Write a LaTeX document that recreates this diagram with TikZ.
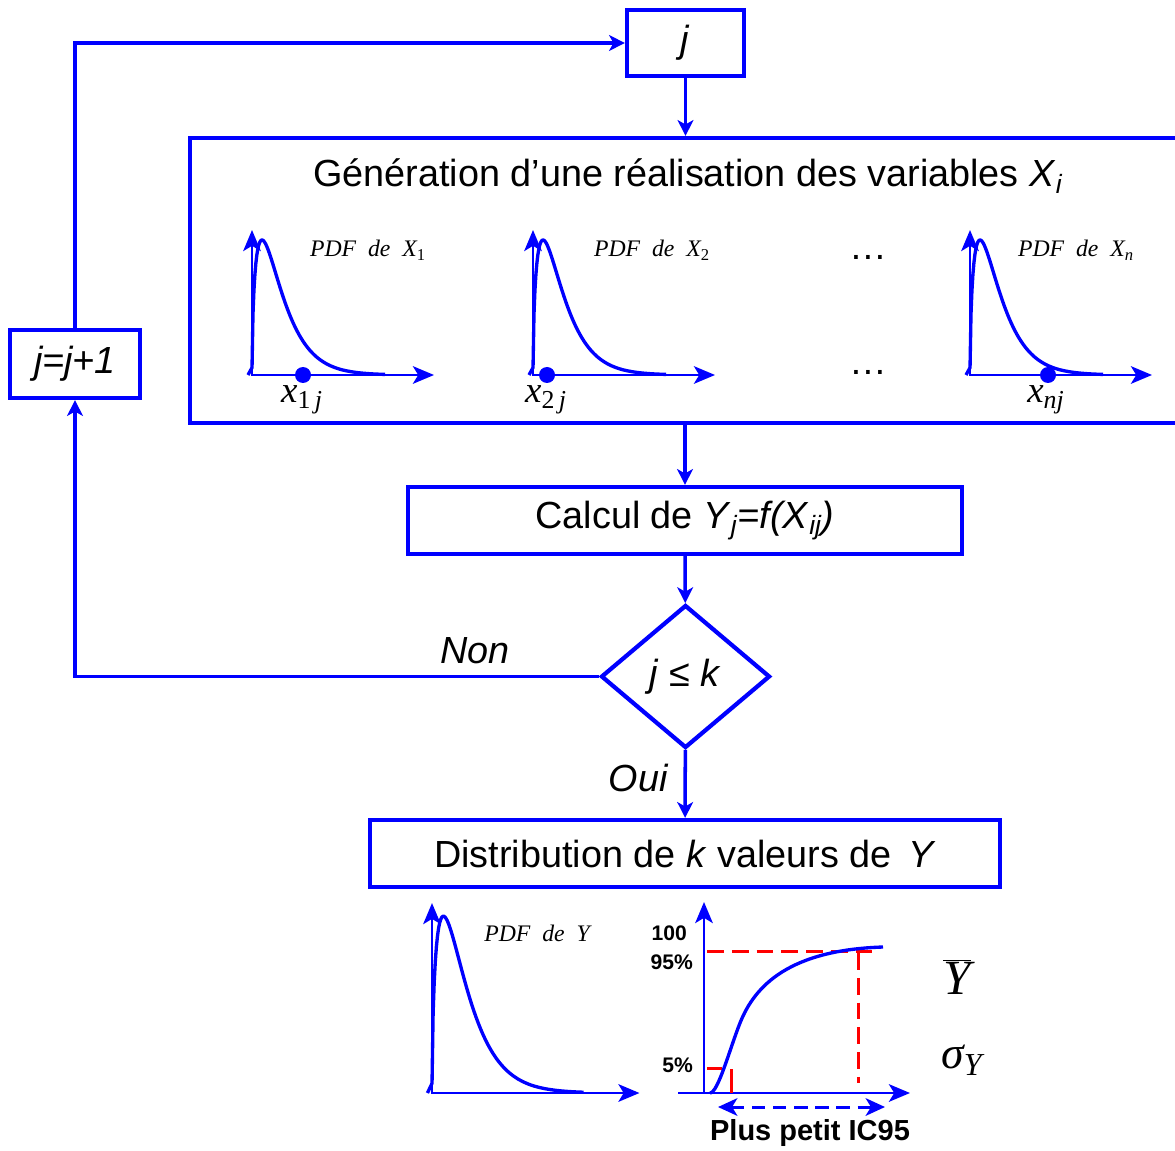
\documentclass[tikz,border=0pt]{standalone}
\usepackage{fontspec}
\setmainfont{Liberation Sans}
\newfontfamily\tnr{Liberation Serif}
\usetikzlibrary{arrows.meta,shapes.geometric,calc}
\newcommand{\flowfont}{\fontsize{21.5}{25}\selectfont}
\newcommand{\pdflabel}[1]{{\tnr\itshape PDF\ \ de\ \ #1}}
\newcommand{\xval}[2]{{\tnr\itshape x}\textsubscript{\tnr #1\itshape #2}}

\begin{document}
\begin{tikzpicture}[
    x=0.02cm,y=-0.02cm,
    box/.style={rectangle,draw=blue,line width=2.4pt,inner sep=0pt,font=\flowfont},
    cond/.style={diamond,draw=blue,line width=2.4pt,inner sep=0pt,
                 minimum width=3.38cm,minimum height=2.86cm,font=\flowfont},
    flow/.style={-{Stealth[length=9pt,width=9pt,inset=2.5pt]},line width=2pt,blue},
    axis/.style={line width=1.5pt,blue},
    axtip/.tip={Stealth[length=12pt,width=10pt,inset=3pt]},
    sptip/.tip={Stealth[length=11pt,width=10pt,inset=3pt]},
    curve/.style={line width=1.9pt,blue,line join=round},
    ci/.style={red,line width=1.7pt,dash pattern=on 9.6pt off 4.5pt},
    span/.style={sptip-sptip,blue,line width=1.7pt,dash pattern=on 7.5pt off 4.5pt},
    dot/.style={circle,fill=blue,inner sep=0pt,minimum size=0.32cm},
    lbl/.style={font=\flowfont\itshape},
    pdflbl/.style={font=\fontsize{13.5}{15}\selectfont},
    xlbl/.style={font=\fontsize{21}{23}\selectfont},
    tick/.style={font=\fontsize{12}{13}\selectfont\bfseries,anchor=east},
    pdfcurve/.pic={
      \draw[axis,axtip-axtip] (0,-145) -- (0,0) -- (182,0);
      \draw[curve] (-4,0) -- plot[domain=0.02:133,samples=140]
        (\x,{-135*pow(\x/10,0.56)*exp(0.56*(1-\x/10))});
    },
]
\useasboundingbox (0,0) rectangle (1175,1151);

% flow boxes
\node[box,minimum width=2.34cm,minimum height=1.32cm] (jbox) at (685.5,43) {\textit{j}};
\node[box,minimum width=20cm,minimum height=5.7cm] (gen) at (690,280.5) {};
\node[font=\flowfont] (title) at (688,176)
  {Génération d’une réalisation des variables \textit{X}\textsubscript{\itshape i}};
\node[box,minimum width=11.08cm,minimum height=1.34cm] (calc) at (685,520.5)
  {Calcul de \textit{Y}\textsubscript{\itshape j}\textit{=f(X}\textsubscript{\itshape ij}\textit{)}};
\node[cond] (test) at (685.5,676.5) {\textit{j} ≤ \textit{k}};
\node[box,minimum width=2.6cm,minimum height=1.36cm] (incr) at (75,364) {\textit{j=j+1}};
\node[box,minimum width=12.6cm,minimum height=1.34cm] (dist) at (685,853.5)
  {Distribution de \textit{k} valeurs de~\,\textit{Y}};

\draw[flow] (jbox) -- (jbox |- gen.north);
\draw[flow] (gen.south -| calc.north) -- (calc);
\draw[flow] (calc) -- (test);
\draw[flow] (test) -- (dist);
\draw[flow] (test.west) -| (incr);
\draw[flow] (incr) |- (jbox);
\node[lbl] (non) at (475,651) {Non};
\node[lbl] (oui) at (638,778) {Oui};

% input distributions
\pic at (252,375) {pdfcurve};
\pic at (533,375) {pdfcurve};
\pic at (970,375) {pdfcurve};
\node[dot] (d1) at (303,375) {};
\node[dot] (d2) at (547,375) {};
\node[dot] (dn) at (1048,375) {};
\node[pdflbl] (p1) at (368,250) {\pdflabel{X}\textsubscript{\tnr 1}};
\node[pdflbl] (p2) at (652,250) {\pdflabel{X}\textsubscript{\tnr 2}};
\node[pdflbl] (pn) at (1076,250) {\pdflabel{X}\textsubscript{\tnr\itshape n}};
\node[xlbl] (x1) at (302,400) {\xval{1}{\,j}};
\node[xlbl] (x2) at (546,400) {\xval{2}{\,j}};
\node[xlbl] (xn) at (1046,400) {\xval{}{nj}};
\node[font=\flowfont] (dots1) at (868,257) {…};
\node[font=\flowfont] (dots2) at (868,372) {…};

% output distribution
\pic[xscale=1.14,yscale=1.31] at (432,1093) {pdfcurve};
\node[pdflbl] (py) at (537,933) {\pdflabel{Y}};

% cumulative curve
\draw[axis,axtip-] (704,902) -- (704,1093);
\draw[axis,-axtip] (678,1093) -- (910,1093);
\draw[ci] (707,951) -- (872,951);
\draw[ci] (858,953) -- (858,1083);
\draw[ci] (707,1068) -- (722,1068);
\draw[red,line width=1.7pt] (731,1069) -- (731,1093);
\draw[curve] (710,1093) .. controls (718,1093) and (730,1048) .. (740,1023)
  .. controls (755,985) and (790,950) .. (883,947);
\draw[span] (718,1107) -- (885,1107);
\node[tick] (t100) at (693,933) {100};
\node[tick] (t95) at (699,962) {95\%};
\node[tick] (t5) at (699,1065) {5\%};
\node[font=\fontsize{16.5}{18}\selectfont\bfseries] (ic) at (810,1133) {Plus petit IC95};
\node[font=\fontsize{28}{30}\selectfont] (ybar) at (957,977) {$\overline{\mbox{\tnr\itshape Y}}$};
\node[font=\fontsize{26}{28}\selectfont] (sig) at (962,1060)
  {{\tnr\itshape σ}\textsubscript{\tnr\itshape Y}};

\end{tikzpicture}
\end{document}
